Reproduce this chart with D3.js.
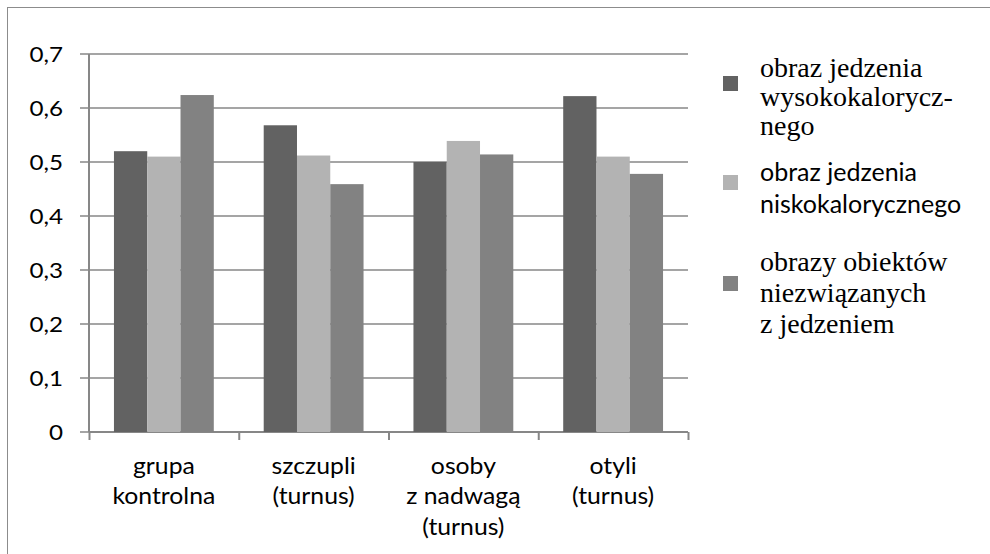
<!DOCTYPE html>
<html>
<head>
<meta charset="utf-8">
<script src="https://cdn.jsdelivr.net/npm/d3@7"></script>
<style>
  body { margin: 0; background: #fff; }
  svg { display: block; }
</style>
</head>
<body>
<svg id="chart" width="990" height="554"></svg>
<script>
// data
const categories = [
  ["grupa", "kontrolna"],
  ["szczupli", "(turnus)"],
  ["osoby", "z nadwagą", "(turnus)"],
  ["otyli", "(turnus)"]
];
const seriesKeys = ["high", "low", "other"];
const highCalorie = [0.52, 0.568, 0.50, 0.622];
const lowCalorie = [0.51, 0.512, 0.539, 0.51];
const nonFood = [0.624, 0.459, 0.514, 0.478];
const yTicks = [0, 0.1, 0.2, 0.3, 0.4, 0.5, 0.6, 0.7];
const legendLines = [
  ["obraz jedzenia", "wysokokalorycz-", "nego"],
  ["obraz jedzenia", "niskokalorycznego"],
  ["obrazy obiektów", "niezwiązanych", "z jedzeniem"]
];

const W = 990, H = 554;
const m = { top: 54, right: 302, bottom: 122, left: 89 };
const iW = W - m.left - m.right;
const iH = H - m.top - m.bottom;
const SX = 1.1; // axis labels in the source are a bit stretched horizontally
const SANS = "Lato, 'Open Sans', sans-serif";
const SERIF = "'Liberation Serif', 'DejaVu Serif', serif";
const colors = { high: "#626262", low: "#b3b3b3", other: "#828282" };
const gridColor = "#878787";

const rows = categories.map((c, i) => ({
  cat: i, high: highCalorie[i], low: lowCalorie[i], other: nonFood[i]
}));

const svg = d3.select("#chart");

// outer frame
svg.append("rect")
  .attr("x", 7.5).attr("y", 7.5).attr("width", W).attr("height", H)
  .attr("fill", "none").attr("stroke", "#8c8c8c").attr("stroke-width", 1);

const g = svg.append("g").attr("transform", `translate(${m.left},${m.top})`);

const x = d3.scaleBand().domain(d3.range(categories.length)).range([0, iW]).padding(0);
const xs = d3.scaleBand().domain(seriesKeys).range([0, x.bandwidth()]).paddingOuter(0.75).paddingInner(0);
const y = d3.scaleLinear().domain([0, 0.7]).range([iH, 0]);
const edges = d3.scaleLinear().domain([0, categories.length]).range([0, iW]);

// gridlines
g.append("g").selectAll("line").data(yTicks).join("line")
  .attr("x1", -9).attr("x2", iW)
  .attr("y1", d => y(d)).attr("y2", d => y(d))
  .attr("stroke", gridColor).attr("stroke-width", 1.6);

// y axis
const fmt = d => d === 0 ? "0" : d3.format(".1f")(d).replace(".", ",");
g.append("g")
  .call(d3.axisLeft(y).tickValues(yTicks).tickSize(9).tickPadding(17).tickFormat(fmt))
  .call(ax => {
    ax.select(".domain").attr("stroke", gridColor).attr("stroke-width", 2).attr("d", `M0,${iH}V0`);
    ax.selectAll(".tick line").remove();
    ax.selectAll(".tick text")
      .attr("fill", "#000").style("font-family", SANS).style("font-size", "22px")
      .attr("transform", `translate(-26,0) scale(${SX},1) translate(26,0)`);
  });

// x axis (category boundary ticks)
g.append("g")
  .attr("transform", `translate(0,${iH})`)
  .call(d3.axisBottom(edges).tickValues(d3.range(categories.length + 1)).tickSize(8).tickFormat(""))
  .call(ax => {
    ax.select(".domain").attr("stroke", gridColor).attr("stroke-width", 2).attr("d", `M0,0H${iW}`);
    ax.selectAll(".tick line").attr("stroke", gridColor).attr("stroke-width", 2);
  });

// bars
const groups = g.append("g").selectAll("g").data(rows).join("g")
  .attr("transform", d => `translate(${x(d.cat)},0)`);
groups.selectAll("rect").data(d => seriesKeys.map(k => ({ key: k, value: d[k] }))).join("rect")
  .attr("x", d => xs(d.key))
  .attr("width", xs.bandwidth())
  .attr("y", d => y(d.value))
  .attr("height", d => iH - y(d.value))
  .attr("fill", d => colors[d.key]);

// category labels
const labels = g.append("g").selectAll("text").data(categories).join("text")
  .attr("transform", (d, i) => `translate(${x(i) + x.bandwidth() / 2},${iH + 42}) scale(${SX},1)`)
  .attr("text-anchor", "middle")
  .attr("fill", "#000").style("font-family", SANS).style("font-size", "22.5px");
labels.selectAll("tspan").data(d => d).join("tspan")
  .attr("x", 0).attr("y", (d, i) => i * 30.5)
  .text(d => d);

// legend
const legendY = [76, 175, 276];
const legendText = [
  { font: SERIF, size: 28, first: 77, step: 29 },
  { font: SANS, size: 25, first: 181, step: 32 },
  { font: SERIF, size: 28, first: 271, step: 31 }
];
const legend = svg.append("g");
seriesKeys.forEach((k, i) => {
  legend.append("rect")
    .attr("x", 723).attr("y", legendY[i]).attr("width", 15).attr("height", 15)
    .attr("fill", colors[k]);
  const t = legend.append("text")
    .attr("fill", "#000").style("font-family", legendText[i].font).style("font-size", legendText[i].size + "px");
  legendLines[i].forEach((line, j) => {
    t.append("tspan").attr("x", 760).attr("y", legendText[i].first + j * legendText[i].step).text(line);
  });
});
</script>
</body>
</html>
